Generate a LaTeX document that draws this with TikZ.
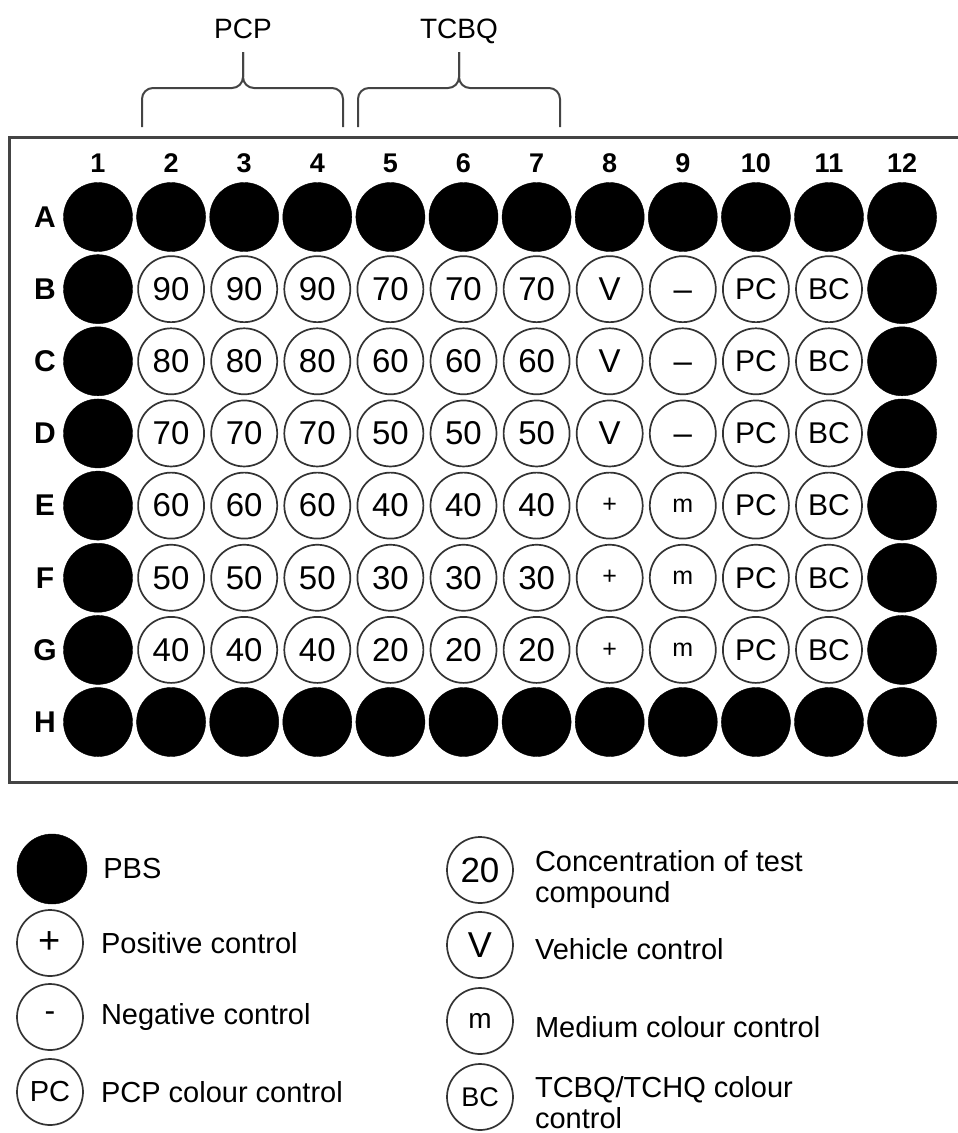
\documentclass[tikz,border=0pt]{standalone}
\usepackage{fontspec}
\setmainfont{Liberation Sans}
\usetikzlibrary{positioning}
\definecolor{WellLine}{HTML}{333333}
\definecolor{PlateLine}{HTML}{444444}
\tikzset{
  pbs/.style={circle, fill=black, draw=black, minimum size=69pt, inner sep=0pt},
  well/.style={circle, draw=WellLine, line width=1.7pt, fill=white, minimum size=66pt, inner sep=0pt, font=\fontsize{33}{35}\selectfont},
  smallwell/.style={well, font=\fontsize{25}{27}\selectfont},
  ctrlwell/.style={well, font=\fontsize{30}{32}\selectfont},
  colnum/.style={font=\fontsize{27}{29}\selectfont\bfseries, inner sep=0pt},
  rowlab/.style={font=\fontsize{30}{32}\selectfont\bfseries, inner sep=0pt},
  header/.style={font=\fontsize{28}{30}\selectfont, inner sep=0pt, anchor=base},
  keytext/.style={font=\fontsize{29}{31}\selectfont, align=left, inner sep=2pt},
  plate/.style={draw=PlateLine, line width=3pt},
  bracket/.style={draw=PlateLine, line width=2pt, rounded corners=11pt}
}
\newcommand\dashmark{\vphantom{0}–}

\begin{document}
\begin{tikzpicture}[x=1pt, y=-1pt]
\useasboundingbox (0,0) rectangle (958,1133);

% plate outline (runs off the right edge)
\draw[plate] (9,137) rectangle (975,782);

% compound headers and braces
\node[header] (pcp) at (243,38) {PCP};
\node[header] (tcbq) at (459,38) {TCBQ};
\coordinate (pcpL) at (142,127);
\coordinate (pcpR) at (343,127);
\coordinate (pcpTip) at (243,52);
\coordinate (tcbqL) at (358,127);
\coordinate (tcbqR) at (560,127);
\coordinate (tcbqTip) at (459,52);
\draw[bracket] (pcpL) |- (pcpTip |- 0,88) -- (pcpTip);
\draw[bracket] (pcpR) |- (pcpTip |- 0,88) -- (pcpTip);
\draw[bracket] (tcbqL) |- (tcbqTip |- 0,88) -- (tcbqTip);
\draw[bracket] (tcbqR) |- (tcbqTip |- 0,88) -- (tcbqTip);

% column numbers
\foreach \c in {1,...,12}
  \node[colnum] (col\c) at ({98+73.1*(\c-1)},163) {\c};

% row letters and PBS wells round the edge
\foreach \r [count=\i from 0] in {A,B,C,D,E,F,G,H} {
  \node[rowlab] (lab\r) at (45,{217+72.15*\i}) {\r};
  \node[pbs] (\r1) at (98,{217+72.15*\i}) {};
  \node[pbs] (\r12) at (902.1,{217+72.15*\i}) {};
}
\foreach \c in {2,...,11} {
  \node[pbs] (A\c) at ({98+73.1*(\c-1)},217) {};
  \node[pbs] (H\c) at ({98+73.1*(\c-1)},722) {};
}

% test wells
\foreach \i/\r/\p/\t/\s/\u/\k in {1/B/90/70/V/\dashmark/well, 2/C/80/60/V/\dashmark/well, 3/D/70/50/V/\dashmark/well,
    4/E/60/40/+/m/smallwell, 5/F/50/30/+/m/smallwell, 6/G/40/20/+/m/smallwell} {
  \foreach \c in {2,3,4}
    \node[well] (\r\c) at ({98+73.1*(\c-1)},{217+72.15*\i}) {\p};
  \foreach \c in {5,6,7}
    \node[well] (\r\c) at ({98+73.1*(\c-1)},{217+72.15*\i}) {\t};
  \node[\k] (\r8) at (609.7,{217+72.15*\i}) {\s};
  \node[\k] (\r9) at (682.8,{217+72.15*\i}) {\u};
  \node[ctrlwell] (\r10) at (755.9,{217+72.15*\i}) {PC};
  \node[ctrlwell] (\r11) at (829,{217+72.15*\i}) {BC};
}

% key, left column
\node[pbs, minimum size=70pt] (keyPBS) at (52,869) {};
\node[keytext, right=14pt of keyPBS] (txtPBS) {PBS};
\node[well, font=\fontsize{38}{40}\selectfont] (keyPos) at (50,943) {+};
\node[keytext, right=15pt of keyPos] (txtPos) {Positive control};
\node[well, font=\fontsize{32}{34}\selectfont] (keyNeg) at (50,1017) {-};
\node[keytext, right=15pt of keyNeg] (txtNeg) {Negative control};
\node[well, font=\fontsize{29}{31}\selectfont] (keyPC) at (50,1092) {PC};
\node[keytext, right=15pt of keyPC] (txtPC) {PCP colour control};

% key, right column
\node[well, font=\fontsize{35}{37}\selectfont] (keyConc) at (480,870) {20};
\node[keytext, right=19pt of keyConc, yshift=-9pt] (txtConc) {Concentration of test\\compound};
\node[well, font=\fontsize{36}{38}\selectfont] (keyVeh) at (480,945) {V};
\node[keytext, right=19pt of keyVeh, yshift=-4pt] (txtVeh) {Vehicle control};
\node[well, font=\fontsize{28}{30}\selectfont] (keyMed) at (480,1021) {m};
\node[keytext, right=19pt of keyMed, yshift=-6pt] (txtMed) {Medium colour control};
\node[well, font=\fontsize{27}{29}\selectfont] (keyBC) at (480,1097) {BC};
\node[keytext, right=19pt of keyBC, yshift=-6pt] (txtBC) {TCBQ/TCHQ colour\\control};
\end{tikzpicture}
\end{document}
